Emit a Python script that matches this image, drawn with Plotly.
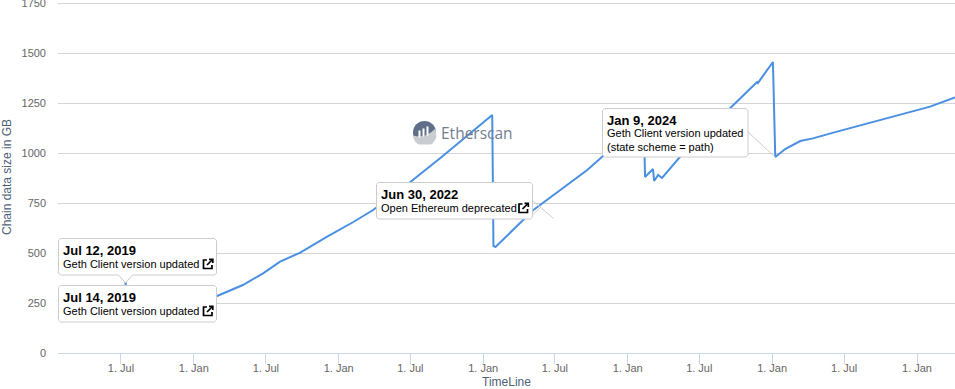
import base64
import plotly.graph_objects as go

dates = ["2019-01-25","2019-04-15","2019-07-12","2019-07-13","2019-07-14","2019-10-15","2020-02-29","2020-05-04","2020-06-24","2020-08-06",
         "2020-09-26","2020-12-03","2021-02-07","2021-03-29","2021-07-01","2021-09-15","2022-01-24","2022-01-27",
         "2022-02-01","2022-05-08","2022-09-21","2022-10-28","2023-02-11","2023-02-14","2023-03-06","2023-03-09",
         "2023-03-19","2023-03-29","2023-05-13","2023-09-17","2023-11-24","2023-11-26","2024-01-03","2024-01-09",
         "2024-02-03","2024-03-12","2024-04-13","2024-06-13","2024-09-22","2024-11-27","2025-02-03","2025-04-07"]
chain_size = [290,310,325,365,190,235,285,340,398,457,502,582,655,715,855,975,1190,535,530,715,915,980,1140,880,920,860,
              890,875,980,1225,1355,1350,1455,980,1020,1060,1073,1107,1162,1198,1232,1278]
tick_dates = ["2019-07-01","2020-01-01","2020-07-01","2021-01-01","2021-07-01","2022-01-01",
              "2022-07-01","2023-01-01","2023-07-01","2024-01-01","2024-07-01","2025-01-01"]
tick_text = ["1. Jul","1. Jan"] * 6
y_ticks = [0,250,500,750,1000,1250,1500,1750]
callout_titles = ["Jul 12, 2019","Jul 14, 2019","Jun 30, 2022","Jan 9, 2024"]
callout_bodies = ["Geth Client version updated","Geth Client version updated","Open Ethereum deprecated",
                  "Geth Client version updated<br>(state scheme = path)"]

L, T, R, B = 58, 1, 955, 353
def px(x): return (x-L)/(R-L)
def py(y): return (B-y)/(B-T)
def P(x, y): return f"{px(x):.5f},{py(y):.5f}"

def box_path(x0, y0, x1, y1, r=2, notch=None):
    pts = [(x1-r,y0),(x1,y0+r),(x1,y1-r),(x1-r,y1)]
    if notch:
        nx, ny = notch
        pts += [(nx+7,y1),(nx,ny),(nx-7,y1)]
    pts += [(x0+r,y1),(x0,y1-r),(x0,y0+r)]
    return f"M{P(x0+r,y0)} L" + " L".join(P(a,b) for a,b in pts) + " Z"

shapes, annots = [], []

def icon(x, y):
    s = dict(type="path", xref="paper", yref="paper", line=dict(color="black", width=1.7), layer="above")
    shapes.append(dict(s, path=f"M{P(x+4.5,y+1.5)} L{P(x+1,y+1.5)} L{P(x+1,y+10)} L{P(x+9.5,y+10)} L{P(x+9.5,y+6.5)}"))
    shapes.append(dict(s, path=f"M{P(x+4.5,y+6.5)} L{P(x+10,y+1)}"))
    shapes.append(dict(s, path=f"M{P(x+6.5,y+0.8)} L{P(x+10.3,y+0.8)} L{P(x+10.3,y+4.5)}"))

boxes = [(58.5,238.5,216.5,275,(125.5,283),[],(61,250.7),(61,264.2),(202.5,258.5)),
         (58.5,285.5,216.5,322,None,[],(61,297.7),(61,311.2),(202.5,305.5)),
         (376.5,182.5,532.5,219,None,[((532,200),(553.5,218.5)),((532,215.5),(541,207))],(379,194.5),(379,208.2),(518,202.5)),
         (602.5,108.5,748,157,None,[((748,132),(775,157))],(605,120.7),(605,140.3),None)]
for i, (x0,y0,x1,y1,notch,tails,tp,bp,ic) in enumerate(boxes):
    for (a,b),(c,d) in tails:
        shapes.append(dict(type="path", xref="paper", yref="paper", layer="above",
                           path=f"M{P(a,b)} L{P(c,d)}", line=dict(color="#cccccc", width=1)))
    shapes.append(dict(type="path", xref="paper", yref="paper", layer="above", path=box_path(x0,y0,x1,y1,notch=notch),
                       line=dict(color="#cccccc", width=1), fillcolor="white"))
    annots.append(dict(xref="paper", yref="paper", x=px(tp[0]), y=py(tp[1]), xanchor="left", yanchor="middle",
                       text=f"<b>{callout_titles[i]}</b>", showarrow=False,
                       font=dict(family="Liberation Sans", size=13, color="black")))
    annots.append(dict(xref="paper", yref="paper", x=px(bp[0]), y=py(bp[1]), xanchor="left", yanchor="middle", align="left",
                       text=callout_bodies[i], showarrow=False,
                       font=dict(family="Liberation Sans", size=11, color="black")))
    if ic:
        icon(*ic)

svg = ('<svg xmlns="http://www.w3.org/2000/svg" viewBox="0 0 24 24" width="24" height="24">'
       '<circle cx="12" cy="12" r="11.5" fill="#5f6f8a"/>'
       '<path d="M0.8 15 Q12 19 23 8 L24 16 A12 12 0 0 1 1 18 Z" fill="#c9ccd1"/>'
       '<rect x="6" y="10" width="2" height="7" fill="#fff"/><rect x="10" y="8" width="2" height="8" fill="#fff"/>'
       '<rect x="14" y="6" width="2" height="9" fill="#fff"/></svg>')
logo = "data:image/svg+xml;base64," + base64.b64encode(svg.encode()).decode()
annots.append(dict(xref="paper", yref="paper", x=px(439), y=py(132.5), xanchor="left", yanchor="middle",
                   text="Etherscan", showarrow=False,
                   font=dict(family="Open Sans", size=15.5, color="#757e8f")))

fig = go.Figure(go.Scatter(x=dates, y=chain_size, mode="lines", line=dict(color="#4a90e2", width=2), hoverinfo="skip"))
fig.update_layout(
    width=955, height=389, margin=dict(l=L, r=0, t=T, b=389-B, pad=0), autosize=False,
    paper_bgcolor="white", plot_bgcolor="white", showlegend=False,
    shapes=shapes, annotations=annots,
    images=[dict(source=logo, xref="paper", yref="paper", x=px(412.5), y=py(120.5), sizex=24/(R-L), sizey=24/(B-T),
                 sizing="stretch", xanchor="left", yanchor="top", layer="below")],
    xaxis=dict(range=["2019-01-23","2025-04-07"], tickmode="array", tickvals=tick_dates, ticktext=tick_text,
               ticks="outside", ticklen=10, tickcolor="#ccd6eb", showgrid=False, showline=True, linecolor="#ccd6eb",
               tickfont=dict(family="Liberation Sans", size=11, color="#666666"), zeroline=False, automargin=False,
               ticklabelstandoff=-5,
               title=dict(text="TimeLine", standoff=12, font=dict(family="Liberation Sans", size=12, color="#4d5f7a"))),
    yaxis=dict(range=[0,1760], tickmode="array", tickvals=y_ticks, ticktext=[str(v) for v in y_ticks],
               gridcolor="#d4d4d4", zeroline=False, automargin=False, ticklabeloverflow="allow", ticklabelstandoff=11,
               tickfont=dict(family="Liberation Sans", size=11, color="#666666"),
               title=dict(text="Chain data size in GB", standoff=18, font=dict(family="Liberation Sans", size=12, color="#4d5f7a"))),
)
fig.write_html("out.html", config=dict(displayModeBar=False), post_script="document.body.style.margin='0';")
